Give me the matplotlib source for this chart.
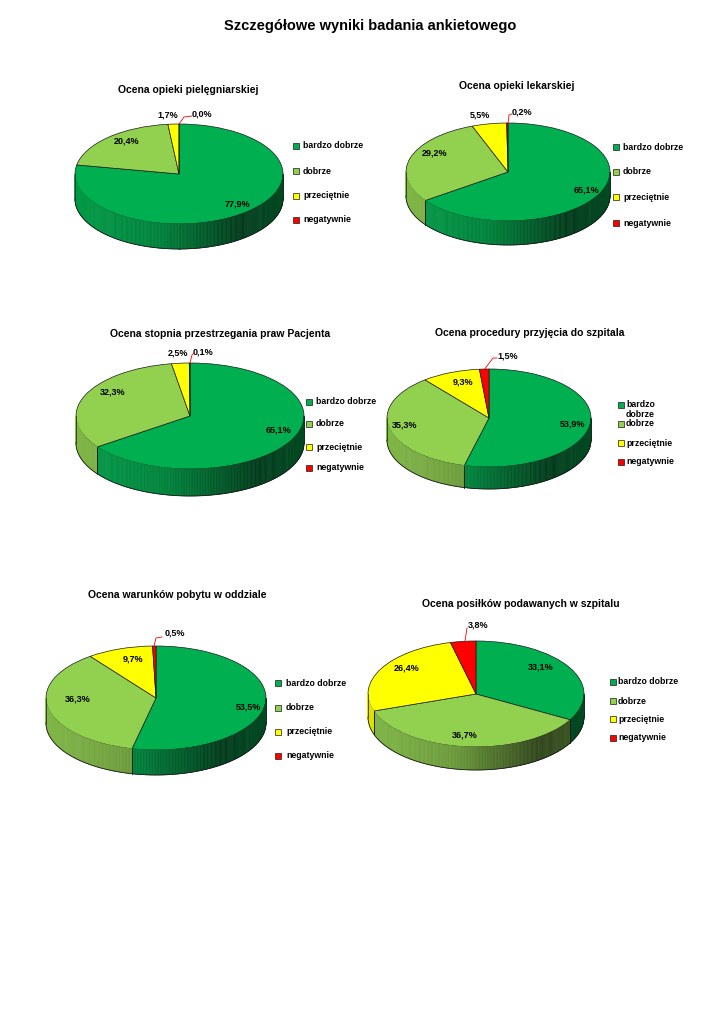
"""
Szczegółowe wyniki badania ankietowego: six 3D-style pie charts (Excel look).
"""
import numpy as np
import matplotlib.pyplot as plt
from matplotlib.patches import Rectangle
from matplotlib.collections import PolyCollection

plt.rcParams['font.family'] = ['Liberation Sans', 'DejaVu Sans']

###################################################
# Data
###################################################
main_title = "Szczegółowe wyniki badania ankietowego"
categories = ["bardzo dobrze", "dobrze", "przeciętnie", "negatywnie"]
colors = ["#00B050", "#92D050", "#FFFF00", "#FF0000"]

titles = [
    "Ocena opieki pielęgniarskiej",
    "Ocena opieki lekarskiej",
    "Ocena stopnia przestrzegania praw Pacjenta",
    "Ocena procedury przyjęcia do szpitala",
    "Ocena warunków pobytu w oddziale",
    "Ocena posiłków podawanych w szpitalu",
]
values_pielegniarska = [77.9, 20.4, 1.7, 0.0]
values_lekarska = [65.1, 29.2, 5.5, 0.2]
values_prawa = [65.1, 32.3, 2.5, 0.1]
values_przyjecie = [53.9, 35.3, 9.3, 1.5]
values_warunki = [53.5, 36.3, 9.7, 0.5]
values_posilki = [33.1, 36.7, 26.4, 3.8]
all_values = [values_pielegniarska, values_lekarska, values_prawa,
              values_przyjecie, values_warunki, values_posilki]

###################################################
# Layout (pixel positions in a 725x1024 page)
###################################################
W, H = 725, 1024
# pie: cx, cy, rx, ry, depth
layouts = [
    dict(pie=(179, 174, 104, 50, 25), title=(188, 90),
         labels=[(237, 204), (127, 141), (168, 115), (202, 114)],
         leader=[(179, 124), (184, 117), (192, 116)],
         leg_sq=296, leg_tx=303, leg_y=[146, 171, 196, 220], wrap=False),
    dict(pie=(508, 172, 102, 49, 24), title=(517, 86),
         labels=[(587, 190), (435, 153), (480, 115), (522, 112)],
         leader=[(508, 124), (509, 115), (512, 114)],
         leg_sq=616, leg_tx=623, leg_y=[147, 172, 197, 223], wrap=False),
    dict(pie=(190, 416, 114, 53, 27), title=(220, 334),
         labels=[(278, 430), (113, 392), (178, 353), (203, 352)],
         leader=[(190, 363), (192, 355), (194, 353)],
         leg_sq=309, leg_tx=316, leg_y=[402, 424, 447, 468], wrap=False),
    dict(pie=(489, 418, 102, 49, 22), title=(530, 333),
         labels=[(573, 424), (405, 425), (463, 382), (508, 356)],
         leader=[(484, 370), (493, 358), (497, 358)],
         leg_sq=621, leg_tx=626, leg_y=[405, 424, 443, 462], wrap=True),
    dict(pie=(156, 698, 110, 52, 25), title=(177, 595),
         labels=[(248, 707), (78, 699), (133, 659), (175, 633)],
         leader=[(154, 646), (156, 638), (162, 637)],
         leg_sq=278, leg_tx=286, leg_y=[683, 708, 732, 756], wrap=False),
    dict(pie=(476, 694, 108, 53, 23), title=(521, 604),
         labels=[(541, 667), (465, 735), (407, 668), (478, 625)],
         leader=[(465, 641), (467, 628)],
         leg_sq=613, leg_tx=618, leg_y=[682, 701, 719, 738], wrap=False),
]


def side_shade(c):
    # darkening of the pie wall depending on horizontal position (cos of angle)
    return np.interp(c, [-1, -0.2, 0.6, 1], [0.88, 0.74, 0.33, 0.42])


def fmt(v):
    return f"{v:.1f}".replace(".", ",") + "%"


fig = plt.figure(figsize=(W / 100, H / 100), dpi=100)
fig.patch.set_facecolor("white")

base = fig.add_axes([0, 0, 1, 1], zorder=10)
base.set_xlim(0, W)
base.set_ylim(H, 0)
base.axis("off")
base.patch.set_alpha(0)

fig.text(370 / W, 1 - 26 / H, main_title, ha="center", va="center",
         fontsize=10.5, fontweight="bold")

for values, title, lay in zip(all_values, titles, layouts):
    cx, cy, rx, ry, depth = lay["pie"]
    pad = 3
    ax = fig.add_axes([(cx - rx - pad) / W, 1 - (cy + ry + depth + pad) / H,
                       (2 * rx + 2 * pad) / W, (2 * ry + depth + 2 * pad) / H])
    d = depth / ry
    wedges, _ = ax.pie(values, colors=colors, startangle=90, counterclock=False,
                       wedgeprops=dict(edgecolor="#1a1a1a", linewidth=0.5))
    ax.set_aspect("auto")
    ax.set_xlim(-1 - pad / rx, 1 + pad / rx)
    ax.set_ylim(-1 - d - pad / ry, 1 + pad / ry)
    ax.axis("off")

    # pie wall (front half only)
    polys, fcols, cuts = [], [], []
    for w, col in zip(wedges, colors):
        rgb = np.array(plt.matplotlib.colors.to_rgb(col))
        t1, t2 = w.theta1, w.theta2
        for k in (-1, 0, 1):
            lo = max(t1, 180 + 360 * k)
            hi = min(t2, 360 + 360 * k)
            if hi - lo <= 0:
                continue
            n = max(2, int((hi - lo) / 0.8))
            ts = np.radians(np.linspace(lo, hi, n + 1))
            for a0, a1 in zip(ts[:-1], ts[1:]):
                polys.append([(np.cos(a0), np.sin(a0)), (np.cos(a1), np.sin(a1)),
                              (np.cos(a1), np.sin(a1) - d), (np.cos(a0), np.sin(a0) - d)])
                fcols.append(tuple(rgb * side_shade(np.cos((a0 + a1) / 2))))
        for t in (t1, t2):
            tm = t % 360
            if 180 < tm < 360:
                cuts.append(np.radians(tm))
    pc = PolyCollection(polys, facecolors=fcols, edgecolors=fcols, linewidths=0.4)
    ax.add_collection(pc)
    tt = np.radians(np.linspace(180, 360, 200))
    ax.plot(np.cos(tt), np.sin(tt) - d, color="#1a1a1a", lw=0.6)
    for x in (-1, 1):
        ax.plot([x, x], [0, -d], color="#1a1a1a", lw=0.5)
    for t in cuts:
        ax.plot([np.cos(t)] * 2, [np.sin(t), np.sin(t) - d], color="#1a1a1a", lw=0.5)

    # title
    tx, ty = lay["title"]
    fig.text(tx / W, 1 - ty / H, title, ha="center", va="center",
             fontsize=7.5, fontweight="bold")

    # value labels
    for v, (lx, ly) in zip(values, lay["labels"]):
        fig.text(lx / W, 1 - ly / H, fmt(v), ha="center", va="center",
                 fontsize=6.5, fontweight="bold")
    xs, ys = zip(*lay["leader"])
    base.plot(xs, ys, color="#FF0000", lw=0.6)

    # legend
    for i, (cat, col, y) in enumerate(zip(categories, colors, lay["leg_y"])):
        base.add_patch(Rectangle((lay["leg_sq"] - 3, y - 3), 6, 6,
                                 facecolor=col, edgecolor="#1a1a1a", lw=0.5))
        if lay["wrap"] and i == 0:
            base.text(lay["leg_tx"], y - 5, cat.replace(" ", "\n"), ha="left",
                      va="top", fontsize=6.3, fontweight="bold", linespacing=1.15)
        else:
            base.text(lay["leg_tx"], y, cat, ha="left", va="center",
                      fontsize=6.3, fontweight="bold")

fig.savefig("out.png", dpi=100)
